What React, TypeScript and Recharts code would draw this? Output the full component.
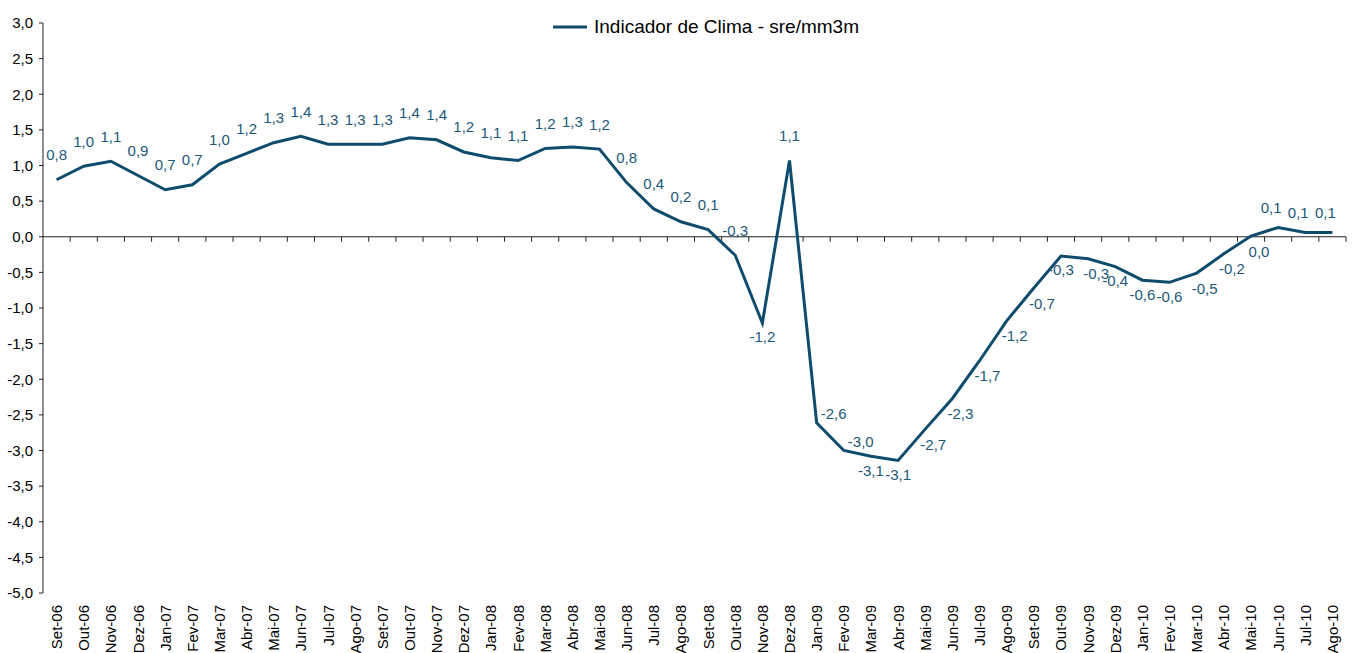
import React from 'react';
import { LineChart, Line, XAxis, YAxis, ReferenceLine, LabelList, Legend } from 'recharts';

const months = [
  'Set-06', 'Out-06', 'Nov-06', 'Dez-06', 'Jan-07', 'Fev-07', 'Mar-07', 'Abr-07', 'Mai-07', 'Jun-07', 'Jul-07', 'Ago-07',
  'Set-07', 'Out-07', 'Nov-07', 'Dez-07', 'Jan-08', 'Fev-08', 'Mar-08', 'Abr-08', 'Mai-08', 'Jun-08', 'Jul-08', 'Ago-08',
  'Set-08', 'Out-08', 'Nov-08', 'Dez-08', 'Jan-09', 'Fev-09', 'Mar-09', 'Abr-09', 'Mai-09', 'Jun-09', 'Jul-09', 'Ago-09',
  'Set-09', 'Out-09', 'Nov-09', 'Dez-09', 'Jan-10', 'Fev-10', 'Mar-10', 'Abr-10', 'Mai-10', 'Jun-10', 'Jul-10', 'Ago-10',
];

const indicador = [
  0.8, 0.99, 1.06, 0.86, 0.66, 0.73, 1.02, 1.17, 1.32, 1.41, 1.3, 1.3,
  1.3, 1.39, 1.36, 1.19, 1.11, 1.07, 1.24, 1.26, 1.23, 0.76, 0.39, 0.21,
  0.1, -0.26, -1.21, 1.07, -2.61, -3.0, -3.08, -3.14, -2.7, -2.27, -1.74, -1.18,
  -0.72, -0.27, -0.31, -0.42, -0.61, -0.64, -0.51, -0.24, 0.01, 0.13, 0.06, 0.06,
];

const labelPlacement = [
  'above', 'above', 'above', 'above', 'above', 'above', 'above', 'above', 'above', 'above', 'above', 'above',
  'above', 'above', 'above', 'above', 'above', 'above', 'above', 'above', 'above', 'above', 'above', 'above',
  'above', 'above', 'below', 'above', 'right', 'right', 'below', 'below', 'belowRight', 'belowRight', 'belowRight', 'belowRight',
  'belowRight', 'below', 'belowRight', 'below', 'below', 'below', 'belowRight', 'belowRight', 'belowRight', 'aboveLeft', 'aboveLeft', 'aboveLeft',
];

const yTicks = [3, 2.5, 2, 1.5, 1, 0.5, 0, -0.5, -1, -1.5, -2, -2.5, -3, -3.5, -4, -4.5, -5];

const seriesName = 'Indicador de Clima - sre/mm3m';

const data = months.map((m, i) => ({ month: m, value: indicador[i] }));

const FONT = '"Liberation Sans", Arial, sans-serif';
const LINE_COLOR = '#0F4C6C';
const LABEL_COLOR = '#1C5878';
const AXIS_COLOR = '#222222';

const fmt = (v: number) => v.toFixed(1).replace('.', ',');

const offsets: Record<string, [number, number]> = {
  above: [0, -25],
  below: [0, 14],
  belowRight: [8, 15],
  right: [17, -9],
  aboveLeft: [-7, -20],
};

const renderLabel = (props: any) => {
  const { x, y, value, index } = props;
  const [dx, dy] = offsets[labelPlacement[index]] || [0, -25];
  return (
    <text
      x={x + dx}
      y={y + dy}
      textAnchor="middle"
      dominantBaseline="central"
      fill={LABEL_COLOR}
      fontSize={15}
      fontFamily={FONT}
    >
      {fmt(Number(value))}
    </text>
  );
};

const XTick = (props: any) => {
  const { x, y, payload } = props;
  const ty = y + 12;
  return (
    <text
      x={x}
      y={ty}
      transform={`rotate(-90, ${x}, ${ty})`}
      textAnchor="end"
      dominantBaseline="central"
      fill="#000"
      fontSize={15}
      fontFamily={FONT}
    >
      {payload.value}
    </text>
  );
};

const ZeroLine = (props: any) => {
  const { x1, y1, x2 } = props;
  const n = months.length;
  const step = (x2 - x1) / n;
  const ticks = [];
  for (let i = 1; i <= n; i++) {
    const tx = x1 + i * step;
    ticks.push(<line key={i} x1={tx} y1={y1} x2={tx} y2={y1 + 5} stroke={AXIS_COLOR} strokeWidth={1} />);
  }
  return (
    <g>
      <line x1={x1} y1={y1} x2={x2} y2={y1} stroke={AXIS_COLOR} strokeWidth={1} />
      {ticks}
    </g>
  );
};

const LegendContent = () => (
  <div style={{ display: 'flex', alignItems: 'center', fontFamily: FONT, fontSize: 19, color: '#000', whiteSpace: 'nowrap' }}>
    <svg width={36} height={6} style={{ marginRight: 5 }}>
      <line x1={0} y1={3} x2={34} y2={3} stroke={LINE_COLOR} strokeWidth={3} />
    </svg>
    <span>{seriesName}</span>
  </div>
);

export default function App() {
  return (
    <div style={{ position: 'absolute', left: 0, top: 0 }}>
      <LineChart width={1352} height={653} data={data} margin={{ top: 23, right: 6, bottom: 0, left: 0 }}>
        <XAxis
          dataKey="month"
          scale="band"
          interval={0}
          axisLine={false}
          tickLine={false}
          tickSize={0}
          tickMargin={0}
          height={60}
          tick={<XTick />}
        />
        <YAxis
          domain={[-5, 3]}
          ticks={yTicks}
          interval={0}
          width={43}
          tickFormatter={fmt}
          tickSize={4}
          tickMargin={6}
          axisLine={{ stroke: AXIS_COLOR }}
          tickLine={{ stroke: AXIS_COLOR }}
          tick={{ fill: '#000', fontSize: 15, fontFamily: FONT }}
        />
        <ReferenceLine y={0} shape={<ZeroLine />} />
        <Legend
          layout="horizontal"
          verticalAlign="middle"
          align="center"
          wrapperStyle={{ top: 16, left: 553, width: 'auto', height: 'auto' }}
          content={<LegendContent />}
        />
        <Line
          type="linear"
          dataKey="value"
          name={seriesName}
          stroke={LINE_COLOR}
          strokeWidth={3}
          dot={false}
          isAnimationActive={false}
        >
          <LabelList dataKey="value" content={renderLabel} />
        </Line>
      </LineChart>
    </div>
  );
}
